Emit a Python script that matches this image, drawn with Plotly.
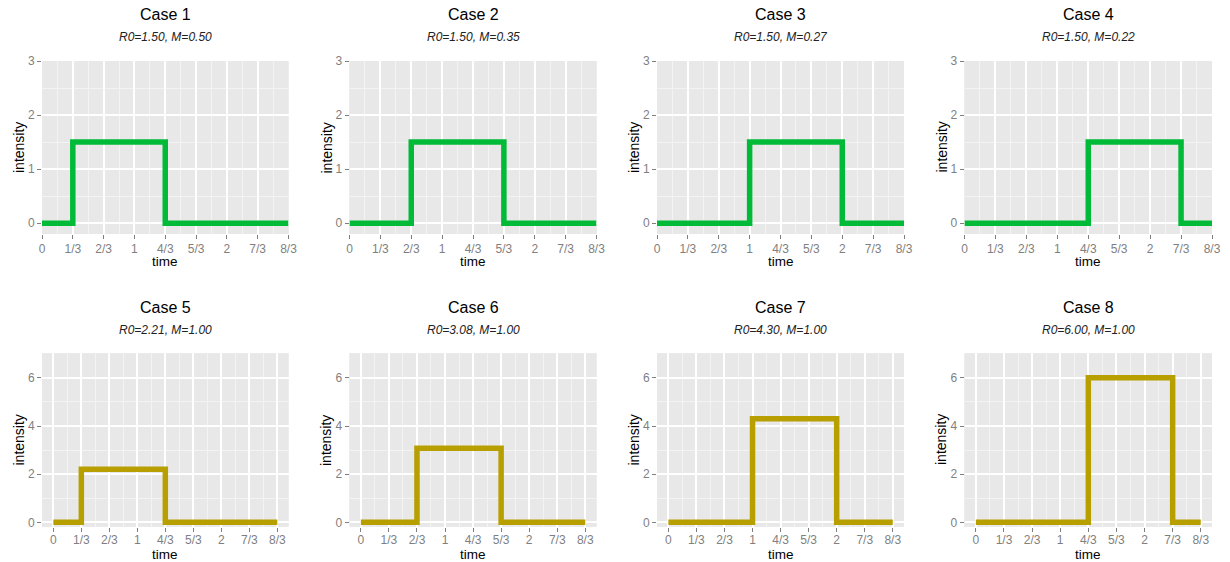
import plotly.graph_objects as go

# ---- data ----
case_names = ["Case 1", "Case 2", "Case 3", "Case 4", "Case 5", "Case 6", "Case 7", "Case 8"]
subtitles = ["R0=1.50, M=0.50", "R0=1.50, M=0.35", "R0=1.50, M=0.27", "R0=1.50, M=0.22",
             "R0=2.21, M=1.00", "R0=3.08, M=1.00", "R0=4.30, M=1.00", "R0=6.00, M=1.00"]
onset = [1/3, 2/3, 1, 4/3, 1/3, 2/3, 1, 4/3]
offset = [4/3, 5/3, 2, 7/3, 4/3, 5/3, 2, 7/3]
height = [1.5, 1.5, 1.5, 1.5, 2.21, 3.08, 4.30, 6.00]
t_end = 8/3
x_tickvals = [0, 1/3, 2/3, 1, 4/3, 5/3, 2, 7/3, 8/3]
x_ticktext = ["0", "1/3", "2/3", "1", "4/3", "5/3", "2", "7/3", "8/3"]
y_ticks_top = [0, 1, 2, 3]
y_ticks_bottom = [0, 2, 4, 6]

W, H = 1230, 562
GREEN = "#00BA38"
OLIVE = "#B79F00"
GRID_BG = "#E8E8E8"
MINOR = "#F3F3F3"
TICKCOL = "#7F7F7F"
FONT = "Liberation Sans, Arial, sans-serif"

col_px = [(42, 288.5), (349.5, 596.5), (657, 904), (964.5, 1212)]
row_px = [(61, 234), (353.3, 526.7)]

fig = go.Figure()
annotations = []

for i in range(8):
    r, c = divmod(i, 4)
    n = i + 1
    xa = "xaxis" if n == 1 else f"xaxis{n}"
    ya = "yaxis" if n == 1 else f"yaxis{n}"
    xr = "x" if n == 1 else f"x{n}"
    yr = "y" if n == 1 else f"y{n}"
    x0p, x1p = col_px[c]
    y0p, y1p = row_px[r]
    xdom = [x0p / W, x1p / W]
    ydom = [1 - y1p / H, 1 - y0p / H]
    color = GREEN if r == 0 else OLIVE

    fig.add_trace(go.Scatter(
        x=[0, onset[i], offset[i], t_end],
        y=[0, height[i], 0, 0],
        mode="lines", line=dict(color=color, width=5.5, shape="hv"),
        xaxis=xr, yaxis=yr, showlegend=False, hoverinfo="skip"))

    if r == 0:
        xrange = [0, t_end]
        yrange = [-0.2, 3]
        yt = y_ticks_top
        yminor = [0.5, 1.5, 2.5]
        standoff = 0
    else:
        xrange = [-0.135, 2.8]
        yrange = [-0.18, 7.02]
        yt = y_ticks_bottom
        yminor = [1, 3, 5, 7]
        standoff = -2
    xminor = [v + 1/6 for v in x_tickvals[:-1]]

    fig.layout[xa] = dict(
        domain=xdom, range=xrange, anchor=yr, automargin=False,
        tickvals=x_tickvals, ticktext=x_ticktext, ticklabelstandoff=standoff,
        showgrid=True, gridcolor="white", gridwidth=1.8,
        minor=dict(tickvals=xminor, showgrid=True, gridcolor=MINOR, gridwidth=0.8),
        zeroline=False, showline=False,
        ticks="outside", ticklen=4, tickwidth=1.4, tickcolor=TICKCOL,
        tickfont=dict(family=FONT, size=12, color=TICKCOL),
    )
    fig.layout[ya] = dict(
        domain=ydom, range=yrange, anchor=xr, automargin=False,
        tickvals=yt, ticktext=[str(v) for v in yt],
        showgrid=True, gridcolor="white", gridwidth=1.8,
        minor=dict(tickvals=yminor, showgrid=True, gridcolor=MINOR, gridwidth=0.8),
        zeroline=False, showline=False,
        ticks="outside", ticklen=4, tickwidth=1.4, tickcolor=TICKCOL,
        tickfont=dict(family=FONT, size=12, color=TICKCOL),
    )
    fig.add_shape(type="rect", xref="paper", yref="paper",
                  x0=xdom[0], x1=xdom[1], y0=ydom[0], y1=ydom[1],
                  fillcolor=GRID_BG, line=dict(width=0), layer="below")

    cx = (x0p + x1p) / 2
    title_y = 15 if r == 0 else 307
    sub_y = 37.5 if r == 0 else 330
    time_y = 261 if r == 0 else 554
    annotations.append(dict(x=cx / W, y=1 - title_y / H, xref="paper", yref="paper",
                            text=case_names[i], showarrow=False,
                            font=dict(family=FONT, size=16, color="black"),
                            xanchor="center", yanchor="middle"))
    annotations.append(dict(x=cx / W, y=1 - sub_y / H, xref="paper", yref="paper",
                            text=f"<i>{subtitles[i]}</i>", showarrow=False,
                            font=dict(family=FONT, size=12, color="#222222"),
                            xanchor="center", yanchor="middle"))
    annotations.append(dict(x=cx / W, y=1 - time_y / H, xref="paper", yref="paper",
                            text="time", showarrow=False,
                            font=dict(family=FONT, size=13.5, color="black"),
                            xanchor="center", yanchor="middle"))
    annotations.append(dict(x=(x0p - 23.5) / W, y=1 - ((y0p + y1p) / 2) / H,
                            xref="paper", yref="paper",
                            text="intensity", showarrow=False, textangle=-90,
                            font=dict(family=FONT, size=14, color="black"),
                            xanchor="center", yanchor="middle"))

fig.update_layout(
    width=W, height=H,
    margin=dict(l=0, r=0, t=0, b=0, autoexpand=False),
    paper_bgcolor="white", plot_bgcolor=GRID_BG,
    annotations=annotations,
    showlegend=False,
)

fig.write_html("out.html",
               config={"displayModeBar": False},
               post_script="document.body.style.margin='0px';"
                           "document.body.style.padding='0px';"
                           "document.body.style.overflow='hidden';")
